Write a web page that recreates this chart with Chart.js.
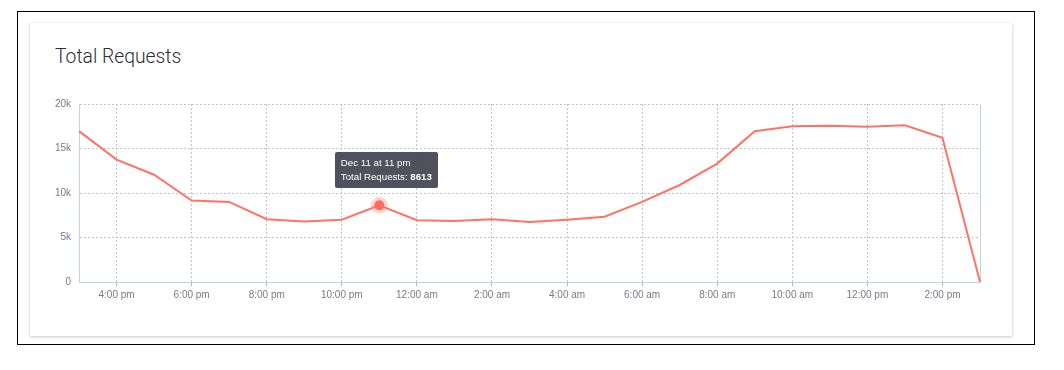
<!DOCTYPE html>
<html>
<head>
<meta charset="utf-8">
<script src="https://cdn.jsdelivr.net/npm/chart.js@4.4.1/dist/chart.umd.min.js"></script>
<style>
  html, body { margin: 0; padding: 0; background: #fff; width: 1064px; height: 370px; overflow: hidden; }
  #frame { position: absolute; left: 17px; top: 11px; width: 1018px; height: 334px; border: 1px solid #000; box-sizing: border-box; }
  #card { position: absolute; left: 30px; top: 23px; width: 982px; height: 313px; background: #fff;
          box-shadow: 0 1px 3px rgba(0,0,0,0.22), 0 0 1px rgba(0,0,0,0.08); }
  #title { position: absolute; left: 55px; top: 44px; font-family: Roboto, "Liberation Sans", Arial, sans-serif; font-size: 19.3px;
           color: #2d2d33; font-weight: 300; line-height: 26px; }
  #wrap { position: absolute; left: 40px; top: 90px; width: 960px; height: 220px; }
  #tip { position: absolute; background: rgba(72,71,84,0.95); color: #fff; font-family: "Liberation Sans", Arial, sans-serif;
         font-size: 9.7px; line-height: 14px; padding: 4px 6px; border-radius: 2px; white-space: nowrap; pointer-events: none; display: none; }
</style>
</head>
<body>
<div id="frame"></div>
<div id="card"></div>
<div id="title">Total Requests</div>
<div id="wrap"><canvas id="c" width="960" height="220"></canvas></div>
<div id="tip"></div>
<script>
// Data (hourly, Dec 11 3 pm -> Dec 12 3 pm)
const hourLabels = ['3:00 pm','4:00 pm','5:00 pm','6:00 pm','7:00 pm','8:00 pm','9:00 pm','10:00 pm','11:00 pm',
  '12:00 am','1:00 am','2:00 am','3:00 am','4:00 am','5:00 am','6:00 am','7:00 am','8:00 am','9:00 am',
  '10:00 am','11:00 am','12:00 pm','1:00 pm','2:00 pm','3:00 pm'];
const tooltipTitles = ['Dec 11 at 3 pm','Dec 11 at 4 pm','Dec 11 at 5 pm','Dec 11 at 6 pm','Dec 11 at 7 pm','Dec 11 at 8 pm',
  'Dec 11 at 9 pm','Dec 11 at 10 pm','Dec 11 at 11 pm','Dec 12 at 12 am','Dec 12 at 1 am','Dec 12 at 2 am','Dec 12 at 3 am',
  'Dec 12 at 4 am','Dec 12 at 5 am','Dec 12 at 6 am','Dec 12 at 7 am','Dec 12 at 8 am','Dec 12 at 9 am','Dec 12 at 10 am',
  'Dec 12 at 11 am','Dec 12 at 12 pm','Dec 12 at 1 pm','Dec 12 at 2 pm','Dec 12 at 3 pm'];
const totalRequests = [16950, 13750, 12050, 9150, 9000, 7050, 6800, 7000, 8613,
  6950, 6850, 7050, 6750, 7000, 7330, 9000, 10900, 13300, 16950,
  17500, 17550, 17450, 17600, 16200, 0];
const yTicks = [0, 5000, 10000, 15000, 20000];
const highlightIndex = 8;

const lineColor = '#ff7366';
const gridColor = '#c4c4c8';
const axisColor = '#c3d1e2';
const tickColor = '#7a798c';
const font = { family: '"Liberation Sans", Arial, sans-serif', size: 10 };

function externalTip(context) {
  const tip = document.getElementById('tip');
  const model = context.tooltip;
  if (model.opacity === 0 || !model.dataPoints || !model.dataPoints.length) { tip.style.display = 'none'; return; }
  const dp = model.dataPoints[0];
  tip.innerHTML = tooltipTitles[dp.dataIndex] + '<br>' + dp.dataset.label + ': <b>' + dp.raw + '</b>';
  tip.style.display = 'block';
  const rect = context.chart.canvas.getBoundingClientRect();
  const px = rect.left + dp.element.x;
  const py = rect.top + dp.element.y;
  const w = tip.offsetWidth, h = tip.offsetHeight;
  tip.style.left = (px + 7 - w / 2) + 'px';
  tip.style.top = (py - 17 - h) + 'px';
}

const chart = new Chart(document.getElementById('c'), {
  type: 'line',
  data: {
    labels: hourLabels,
    datasets: [{
      label: 'Total Requests',
      data: totalRequests,
      borderColor: lineColor,
      backgroundColor: lineColor,
      borderWidth: 2,
      tension: 0,
      fill: false,
      pointRadius: 0,
      pointHoverRadius: 5,
      pointHoverBackgroundColor: '#ff6a5c',
      pointHoverBorderColor: 'rgba(255,115,102,0.28)',
      pointHoverBorderWidth: 7,
      yAxisID: 'y'
    }]
  },
  options: {
    responsive: false,
    animation: false,
    events: [],
    layout: { padding: { left: 0, right: 20, top: 12, bottom: 0 } },
    plugins: {
      legend: { display: false },
      title: { display: false },
      tooltip: { enabled: false, external: externalTip }
    },
    scales: {
      x: {
        type: 'category',
        offset: false,
        border: { display: true, color: axisColor, width: 1, dash: [2, 2] },
        grid: {
          color: (ctx) => (ctx.index % 2 === 1 ? gridColor : 'rgba(0,0,0,0)'),
          tickColor: (ctx) => (ctx.index % 2 === 1 ? '#b0b0b5' : 'rgba(0,0,0,0)'),
          tickLength: 4,
          drawTicks: true
        },
        ticks: {
          autoSkip: false, maxRotation: 0, minRotation: 0,
          color: tickColor, font: font, padding: 3,
          callback: (v, i) => (i % 2 === 1 ? hourLabels[i] : '')
        },
        afterFit: (s) => { s.height = 28; }
      },
      y: {
        position: 'left',
        min: 0, max: 20000,
        afterBuildTicks: (s) => { s.ticks = yTicks.map(v => ({ value: v })); },
        border: { display: true, color: axisColor, width: 1, dash: [2, 2] },
        grid: { color: gridColor, drawTicks: false },
        ticks: {
          color: tickColor, font: font, padding: 8,
          callback: (v) => (v === 0 ? '0' : (v / 1000) + 'k')
        },
        afterFit: (s) => { s.width = 39; }
      },
      y2: {
        position: 'right',
        min: 0, max: 20000,
        border: { display: true, color: axisColor, width: 1 },
        grid: { drawOnChartArea: false, drawTicks: false },
        ticks: { display: false },
        afterFit: (s) => { s.width = 0; }
      }
    }
  }
});

const active = [{ datasetIndex: 0, index: highlightIndex }];
chart.setActiveElements(active);
chart.tooltip.setActiveElements(active, { x: 0, y: 0 });
chart.update();
</script>
</body>
</html>
